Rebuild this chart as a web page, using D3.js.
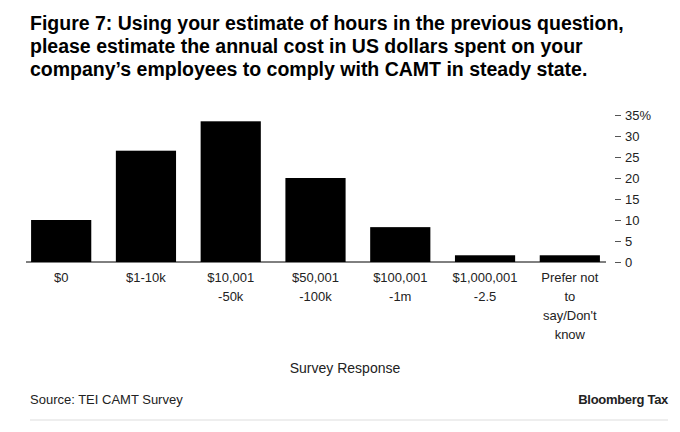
<!DOCTYPE html>
<html><head><meta charset="utf-8">
<script src="https://cdn.jsdelivr.net/npm/d3@7"></script>
<style>
body{margin:0;background:#fff;font-family:"Liberation Sans",Arial,sans-serif;}
</style></head>
<body><svg id="chart" width="680" height="432"></svg>
<script>
var categories = ["$0", "$1-10k", "$10,001\n-50k", "$50,001\n-100k", "$100,001\n-1m", "$1,000,001\n-2.5", "Prefer not\nto\nsay/Don't\nknow"];
var values = [10, 26.5, 33.5, 20, 8.3, 1.6, 1.6];
var ticks = [0, 5, 10, 15, 20, 25, 30, 35];

var svg = d3.select("#chart");

var title = ["Figure 7: Using your estimate of hours in the previous question,",
  "please estimate the annual cost in US dollars spent on your",
  "company\u2019s employees to comply with CAMT in steady state."];
svg.selectAll(".title").data(title).enter().append("text")
  .attr("x", 30).attr("y", function(d, i) { return 30 + i * 23; })
  .attr("font-size", 19.5).attr("font-weight", "bold").attr("fill", "#000")
  .text(function(d) { return d; });

var x = d3.scaleBand().domain(categories).range([26, 605]).paddingInner(0.29).paddingOuter(0.06);
var y = d3.scaleLinear().domain([0, 35]).range([262, 115]);

svg.selectAll(".bar").data(values).enter().append("rect")
  .attr("x", function(d, i) { return x(categories[i]); })
  .attr("width", x.bandwidth())
  .attr("y", function(d) { return y(d); })
  .attr("height", function(d) { return y(0) - y(d); })
  .attr("fill", "#000");

svg.append("line").attr("x1", 26).attr("x2", 606).attr("y1", y(0)).attr("y2", y(0))
  .attr("stroke", "#000").attr("stroke-width", 1);

var yAxis = svg.append("g").attr("transform", "translate(615,0)")
  .call(d3.axisRight(y).tickValues(ticks).tickSize(6).tickPadding(4)
    .tickFormat(function(d) { return d === 35 ? "35%" : d; }));
yAxis.select(".domain").remove();
yAxis.selectAll("text").attr("font-size", 13).attr("fill", "#222")
  .attr("font-family", "Liberation Sans, Arial, sans-serif");
yAxis.selectAll("line").attr("stroke", "#555");

var lab = svg.selectAll(".xl").data(categories).enter().append("text")
  .attr("text-anchor", "middle").attr("font-size", 13).attr("fill", "#222")
  .attr("x", function(d) { return x(d) + x.bandwidth() / 2; })
  .attr("y", 282);
lab.selectAll("tspan").data(function(d) { return d.split("\n"); }).enter().append("tspan")
  .attr("x", function() { return d3.select(this.parentNode).attr("x"); })
  .attr("dy", function(d, i) { return i ? 19 : 0; })
  .text(function(d) { return d; });

svg.append("text").attr("x", 345).attr("y", 373).attr("text-anchor", "middle")
  .attr("font-size", 14).attr("fill", "#222").text("Survey Response");
svg.append("text").attr("x", 30).attr("y", 404).attr("font-size", 13)
  .attr("fill", "#222").text("Source: TEI CAMT Survey");
svg.append("text").attr("x", 668).attr("y", 404).attr("text-anchor", "end")
  .attr("font-size", 13).attr("font-weight", "bold").attr("fill", "#222")
  .attr("letter-spacing", -0.3).text("Bloomberg Tax");
svg.append("line").attr("x1", 30).attr("x2", 668).attr("y1", 420).attr("y2", 420)
  .attr("stroke", "#ddd");
</script></body></html>
